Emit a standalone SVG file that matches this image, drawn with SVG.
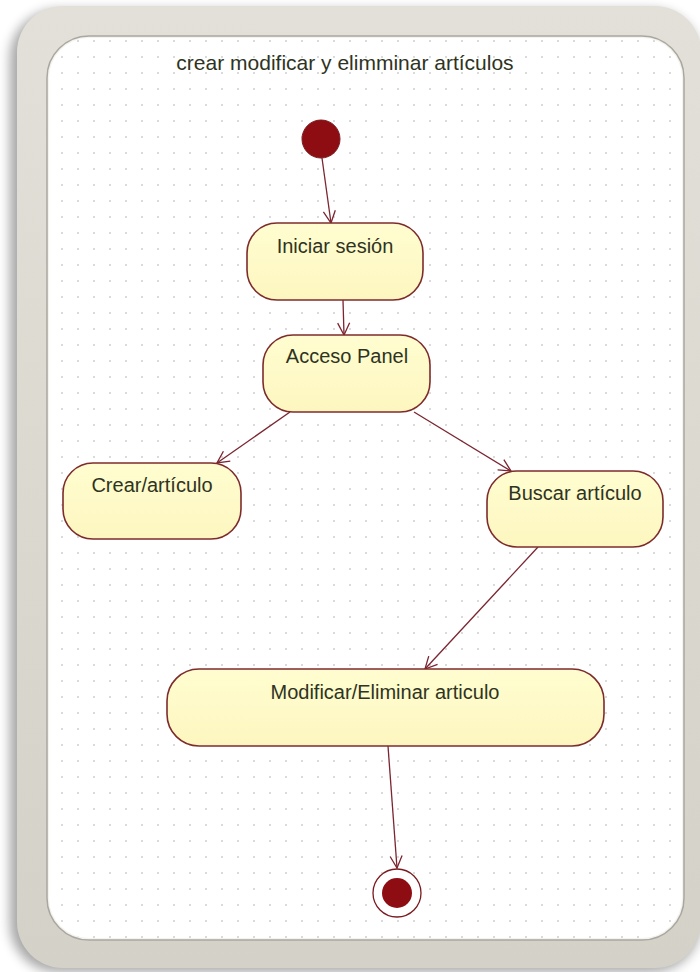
<svg xmlns="http://www.w3.org/2000/svg" width="700" height="972" viewBox="0 0 700 972">
<defs>
<style>
.state{fill:url(#sf);stroke:#7d2b2b;stroke-width:1.6}
.lbl{font-family:"Liberation Sans",Arial,sans-serif;font-size:20px;fill:#2e3322;text-anchor:middle}
.conn{fill:none;stroke:#7a2530;stroke-width:1.3}
</style>
<linearGradient id="sf" x1="0" y1="0" x2="0" y2="1">
<stop offset="0" stop-color="#fffdd0"/>
<stop offset="1" stop-color="#fdf6c0"/>
</linearGradient>
<linearGradient id="frameg" x1="0" y1="0" x2="0" y2="1">
<stop offset="0" stop-color="#e2e0d8"/>
<stop offset="1" stop-color="#d4d1c8"/>
</linearGradient>
<pattern id="grid" x="6" y="1" width="16" height="16" patternUnits="userSpaceOnUse">
<circle cx="8" cy="8" r="0.9" fill="#c9c9c9"/>
</pattern>
<filter id="sh" x="-10%" y="-10%" width="120%" height="120%">
<feGaussianBlur stdDeviation="6"/>
</filter>
<marker id="arr" viewBox="0 0 14 14" refX="13" refY="7" markerWidth="14" markerHeight="14" markerUnits="userSpaceOnUse" orient="auto">
<path d="M1,1 L13,7 L1,13" fill="none" stroke="#7a2530" stroke-width="1.3"/>
</marker>
</defs>
<rect width="700" height="972" fill="#ffffff"/>
<g id="frame">
<rect x="10" y="10" width="690" height="962" rx="48" fill="#000" opacity="0.35" filter="url(#sh)"/>
<rect x="17" y="6" width="684" height="962" rx="46" fill="url(#frameg)"/>
<rect x="47" y="36" width="637" height="904" rx="42" fill="#f4f3ee" stroke="#a9a7a0" stroke-width="1.5"/>
<rect x="49" y="38" width="633" height="900" rx="40" fill="#ffffff"/>
<rect x="49" y="38" width="633" height="900" rx="40" fill="url(#grid)"/>
</g>
<g id="title">
<text class="lbl" x="345" y="70" style="font-size:21px">crear modificar y elimminar artículos</text>
</g>
<g id="connectors">
<path class="conn" d="M322,158 L331,223" marker-end="url(#arr)"/>
<path class="conn" d="M343,300 L344,335" marker-end="url(#arr)"/>
<path class="conn" d="M290,412 L217,463" marker-end="url(#arr)"/>
<path class="conn" d="M414,412 L511,471" marker-end="url(#arr)"/>
<path class="conn" d="M538,547 L425,669" marker-end="url(#arr)"/>
<path class="conn" d="M388,746 L397,868" marker-end="url(#arr)"/>
</g>
<g id="initial">
<circle cx="321" cy="139" r="19" fill="#8e0d12" stroke="#7a1a1f" stroke-width="1"/>
</g>
<g id="iniciar-sesion">
<rect class="state" x="247" y="223" width="176" height="77" rx="30"/>
<text class="lbl" x="335" y="253">Iniciar sesión</text>
</g>
<g id="acceso-panel">
<rect class="state" x="263" y="335" width="167" height="77" rx="30"/>
<text class="lbl" x="347" y="363">Acceso Panel</text>
</g>
<g id="crear-articulo">
<rect class="state" x="63" y="463" width="178" height="76" rx="30"/>
<text class="lbl" x="152" y="492">Crear/artículo</text>
</g>
<g id="buscar-articulo">
<rect class="state" x="487" y="471" width="176" height="76" rx="30"/>
<text class="lbl" x="575" y="500">Buscar artículo</text>
</g>
<g id="modificar-eliminar">
<rect class="state" x="167" y="669" width="437" height="77" rx="32"/>
<text class="lbl" x="385" y="699">Modificar/Eliminar articulo</text>
</g>
<g id="final">
<circle cx="397" cy="893" r="24" fill="#ffffff" stroke="#7a1a1f" stroke-width="1.3"/>
<circle cx="397" cy="893" r="15" fill="#8e0d12"/>
</g>
</svg>
